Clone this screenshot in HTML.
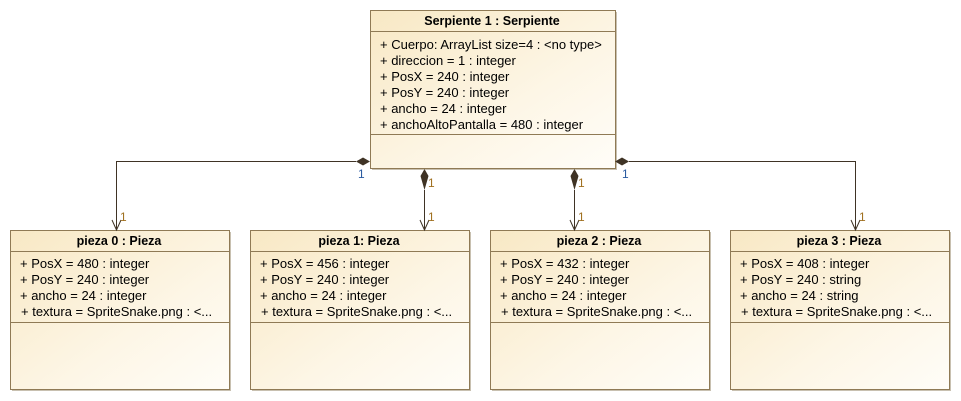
<!DOCTYPE html>
<html><head><meta charset="utf-8"><style>
html,body{margin:0;padding:0;background:#fff;}
svg{display:block;font-family:"Liberation Sans",Arial,sans-serif;font-size:13px;}
</style></head><body>
<svg width="961" height="401" viewBox="0 0 961 401" xmlns="http://www.w3.org/2000/svg">
<defs>
<linearGradient id="g" x1="0" y1="0" x2="1" y2="1">
<stop offset="0" stop-color="#f8e8c4"/><stop offset="0.6" stop-color="#fdf6e6"/><stop offset="1" stop-color="#fffdf8"/>
</linearGradient>
</defs>
<g fill="#c8c0b0">
<rect x="372" y="12" width="245" height="158"/>
<rect x="12" y="232" width="219" height="159"/>
<rect x="252" y="232" width="219" height="159"/>
<rect x="492" y="232" width="219" height="159"/>
<rect x="732" y="232" width="219" height="159"/>
</g>
<g stroke="#8f7a55" fill="url(#g)">
<rect x="370.5" y="10.5" width="245" height="158"/>
<line x1="370" y1="31.5" x2="615" y2="31.5"/>
<line x1="370" y1="134.5" x2="615" y2="134.5"/>
<rect x="10.5" y="230.5" width="219" height="159"/>
<rect x="250.5" y="230.5" width="219" height="159"/>
<rect x="490.5" y="230.5" width="219" height="159"/>
<rect x="730.5" y="230.5" width="219" height="159"/>
<line x1="10" y1="251.5" x2="229" y2="251.5"/><line x1="10" y1="322.5" x2="229" y2="322.5"/>
<line x1="250" y1="251.5" x2="469" y2="251.5"/><line x1="250" y1="322.5" x2="469" y2="322.5"/>
<line x1="490" y1="251.5" x2="709" y2="251.5"/><line x1="490" y1="322.5" x2="709" y2="322.5"/>
<line x1="730" y1="251.5" x2="949" y2="251.5"/><line x1="730" y1="322.5" x2="949" y2="322.5"/>
</g>
<g fill="#000">
<text x="492" y="25" text-anchor="middle" font-weight="bold" font-size="12.5">Serpiente 1 : Serpiente</text>
<text x="380" y="49">+ Cuerpo: ArrayList size=4 : &lt;no type&gt;</text>
<text x="380" y="65">+ direccion = 1 : integer</text>
<text x="380" y="81">+ PosX = 240 : integer</text>
<text x="380" y="97">+ PosY = 240 : integer</text>
<text x="380" y="113">+ ancho = 24 : integer</text>
<text x="380" y="129">+ anchoAltoPantalla = 480 : integer</text>

<text x="119" y="245" text-anchor="middle" font-weight="bold" font-size="12.5">pieza 0 : Pieza</text>
<text x="20" y="268">+ PosX = 480 : integer</text><text x="20" y="284">+ PosY = 240 : integer</text><text x="20" y="300">+ ancho = 24 : integer</text><text x="21" y="316">+ textura = SpriteSnake.png : &lt;...</text>

<text x="359" y="245" text-anchor="middle" font-weight="bold" font-size="12.5">pieza 1: Pieza</text>
<text x="260" y="268">+ PosX = 456 : integer</text><text x="260" y="284">+ PosY = 240 : integer</text><text x="260" y="300">+ ancho = 24 : integer</text><text x="261" y="316">+ textura = SpriteSnake.png : &lt;...</text>

<text x="599" y="245" text-anchor="middle" font-weight="bold" font-size="12.5">pieza 2 : Pieza</text>
<text x="500" y="268">+ PosX = 432 : integer</text><text x="500" y="284">+ PosY = 240 : integer</text><text x="500" y="300">+ ancho = 24 : integer</text><text x="501" y="316">+ textura = SpriteSnake.png : &lt;...</text>

<text x="839" y="245" text-anchor="middle" font-weight="bold" font-size="12.5">pieza 3 : Pieza</text>
<text x="740" y="268">+ PosX = 408 : integer</text><text x="740" y="284">+ PosY = 240 : string</text><text x="740" y="300">+ ancho = 24 : string</text><text x="741" y="316">+ textura = SpriteSnake.png : &lt;...</text>
</g>
<g stroke="#3f3325" fill="none" stroke-width="1">
<polyline points="356,161.5 116.5,161.5 116.5,230"/>
<polyline points="629,161.5 855.5,161.5 855.5,230"/>
<line x1="424.5" y1="190" x2="424.5" y2="230"/>
<line x1="574.5" y1="190" x2="574.5" y2="230"/>
<polyline points="112,220 116.5,230 121,220"/>
<polyline points="851,220 855.5,230 860,220"/>
<polyline points="420,220 424.5,230 429,220"/>
<polyline points="570,220 574.5,230 579,220"/>
</g>
<g fill="#3f3325">
<polygon points="370,161.5 363,157.5 356,161.5 363,165.5"/>
<polygon points="615,161.5 622,157.5 629,161.5 622,165.5"/>
<polygon points="424.5,169 428.5,176 424.5,190 420.5,176"/>
<polygon points="574.5,169 578.5,176 574.5,190 570.5,176"/>
</g>
<g font-size="12">
<text x="358" y="178" fill="#2a5aa0">1</text>
<text x="622" y="178" fill="#2a5aa0">1</text>
<text x="428" y="187" fill="#a07020">1</text>
<text x="578" y="187" fill="#a07020">1</text>
<text x="120" y="221" fill="#a07020">1</text>
<text x="428" y="221" fill="#a07020">1</text>
<text x="578" y="221" fill="#a07020">1</text>
<text x="859" y="221" fill="#a07020">1</text>
</g>
</svg>
</body></html>
